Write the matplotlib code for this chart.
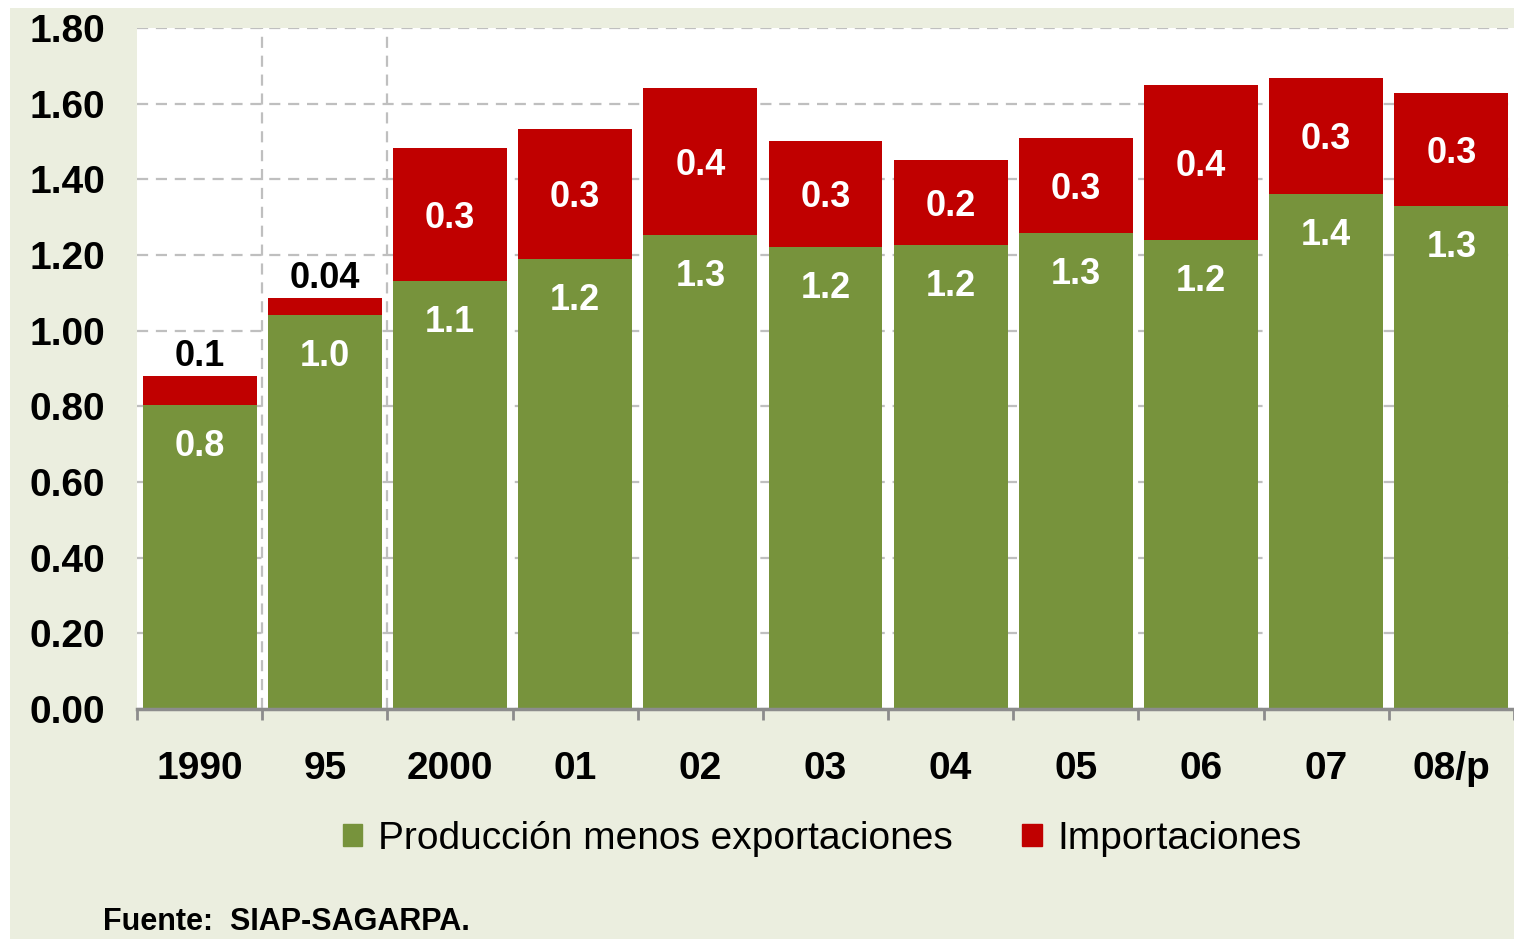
import numpy as np
import matplotlib.pyplot as plt
from matplotlib.patches import Rectangle, Patch

# data
years = ['1990', '95', '2000', '01', '02', '03', '04', '05', '06', '07', '08/p']
produccion = [0.804, 1.041, 1.131, 1.190, 1.253, 1.221, 1.227, 1.258, 1.240, 1.361, 1.330]
importaciones = [0.076, 0.045, 0.352, 0.343, 0.389, 0.280, 0.224, 0.251, 0.409, 0.307, 0.298]
prod_labels = ['0.8', '1.0', '1.1', '1.2', '1.3', '1.2', '1.2', '1.3', '1.2', '1.4', '1.3']
imp_labels = ['0.1', '0.04', '0.3', '0.3', '0.4', '0.3', '0.2', '0.3', '0.4', '0.3', '0.3']

green = '#77933C'
red = '#C00000'
bg = '#EBEEDF'
fam = ['Liberation Sans', 'DejaVu Sans']

fig = plt.figure(figsize=(15.14, 9.39), dpi=100)
fig.patch.set_facecolor('white')
fig.patches.append(Rectangle((10/1514, 0), 1, 1 - 8/939, transform=fig.transFigure,
                             facecolor=bg, edgecolor='none', zorder=-10))

ax = fig.add_axes([137/1514, 1 - 709/939, 1 - 137/1514, (709 - 28)/939])
ax.set_facecolor('white')

x = np.arange(len(years))
ax.bar(x, produccion, width=0.91, color=green, zorder=3)
ax.bar(x, importaciones, width=0.91, bottom=produccion, color=red, zorder=3)

ax.set_xlim(-0.5, 10.4)
ax.set_ylim(0, 1.8)
ax.set_yticks(np.arange(0, 1.81, 0.2))
ax.set_yticklabels(['%.2f' % v for v in np.arange(0, 1.81, 0.2)],
                   fontsize=28, fontweight='bold', family=fam)
ax.yaxis.grid(True, linestyle=(0, (5, 3.5)), color='#BFBFBF', linewidth=1.6, zorder=0)
ax.tick_params(axis='y', length=0, pad=23)

ax.set_xticks(x)
ax.set_xticklabels(years, fontsize=28, fontweight='bold', family=fam)
ax.tick_params(axis='x', length=0, pad=30)
ax.set_xticks(np.arange(-0.5, 10.6, 1), minor=True)
ax.tick_params(axis='x', which='minor', length=8, width=2, color='#8C8C8C', direction='out')

for b in [0.5, 1.5]:
    ax.axvline(b, linestyle=(0, (5, 3.5)), color='#BFBFBF', linewidth=1.6, zorder=1)

for s in ['top', 'right', 'left']:
    ax.spines[s].set_visible(False)
ax.spines['bottom'].set_color('#8C8C8C')
ax.spines['bottom'].set_linewidth(2.5)
ax.spines['bottom'].set_zorder(4)

for i in range(len(years)):
    ax.text(x[i], produccion[i] - 0.11, prod_labels[i], ha='center', va='center',
            color='white', fontsize=26, fontweight='bold', family=fam, zorder=5)
    top = produccion[i] + importaciones[i]
    if i < 2:
        ax.text(x[i], top + 0.052, imp_labels[i], ha='center', va='center',
                color='black', fontsize=26, fontweight='bold', family=fam, zorder=5)
    else:
        ax.text(x[i], produccion[i] + importaciones[i] / 2 - 0.01, imp_labels[i], ha='center',
                va='center', color='white', fontsize=26, fontweight='bold', family=fam, zorder=5)

handles = [Patch(color=green, label='Producción menos exportaciones'),
           Patch(color=red, label='Importaciones')]
fig.legend(handles=handles, loc='center', bbox_to_anchor=(822/1514, 1 - 839/939), ncol=2,
           frameon=False, prop={'family': fam, 'size': 28}, handlelength=0.5,
           handleheight=0.5, handletextpad=0.4, columnspacing=1.8)

fig.text(103/1514, 1 - 922/939, 'Fuente:  SIAP-SAGARPA.', fontsize=22, fontweight='bold',
         family=fam, va='center', ha='left')

fig.savefig('out.png', dpi=100, facecolor=fig.get_facecolor())
